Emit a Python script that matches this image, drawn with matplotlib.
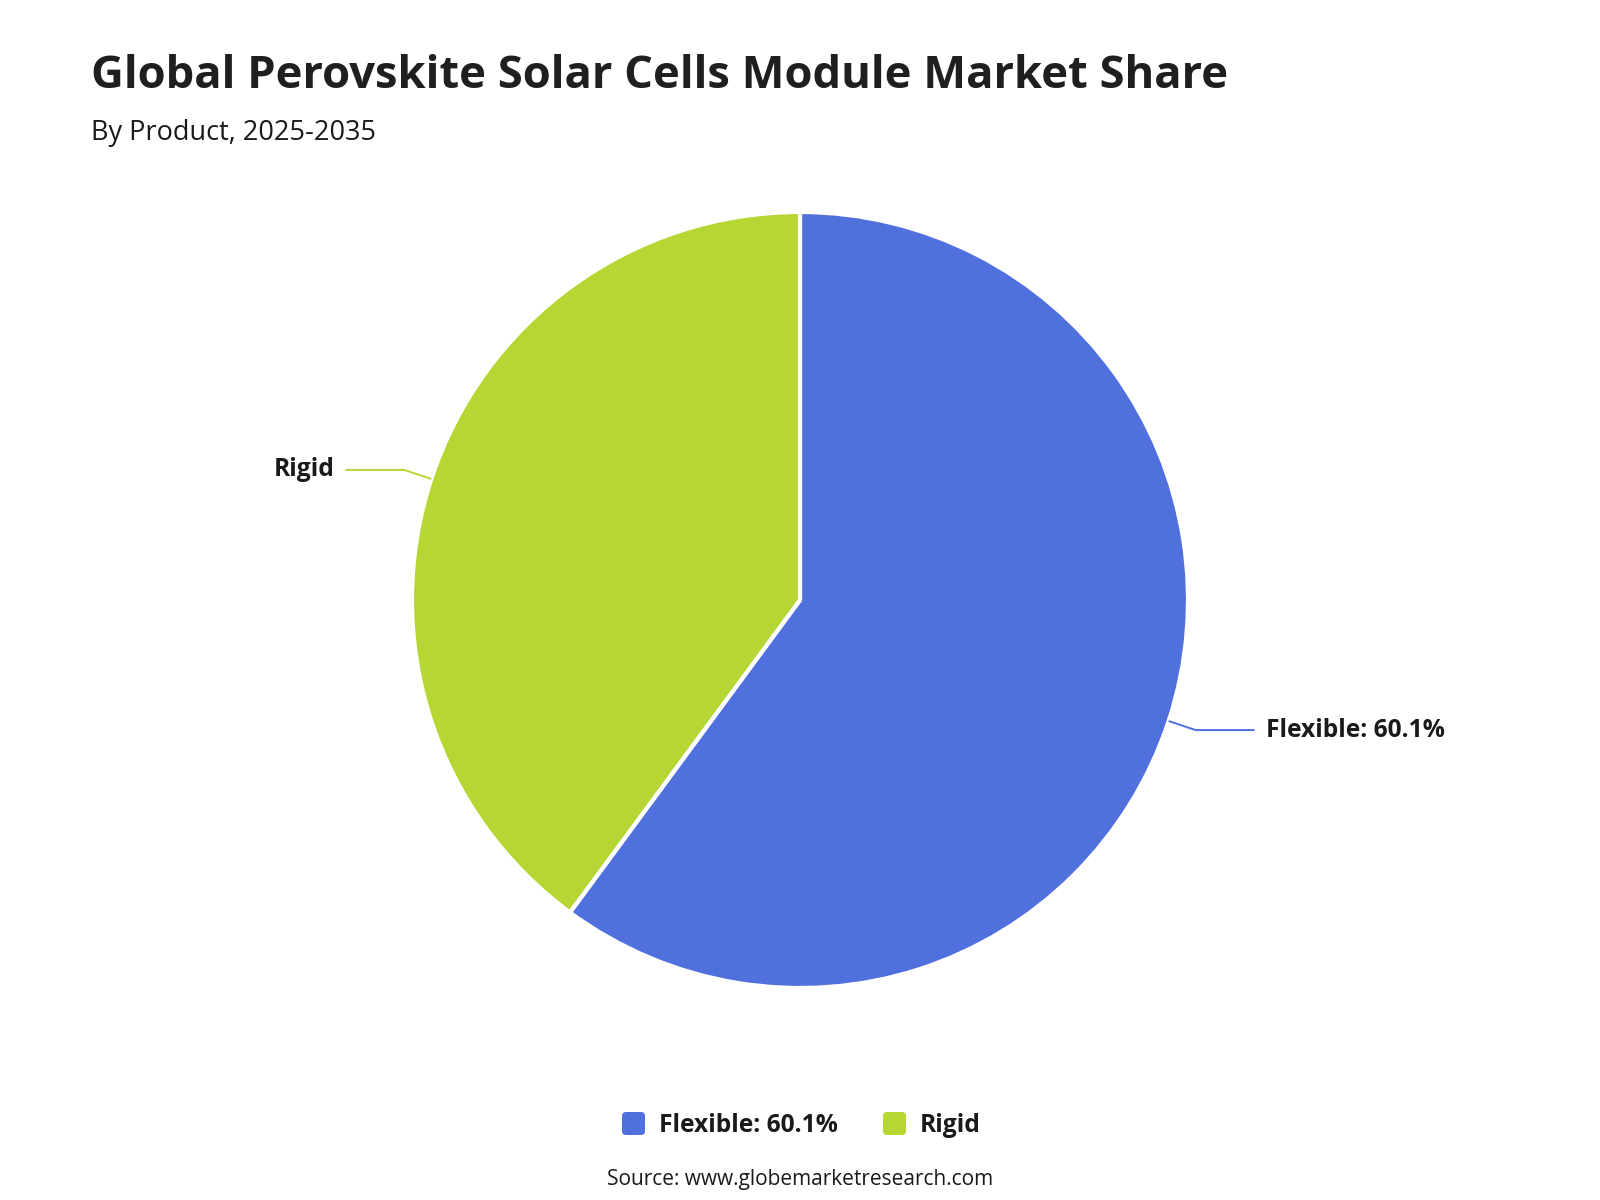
import matplotlib.pyplot as plt
import numpy as np
from matplotlib.patches import FancyBboxPatch

plt.rcParams['font.family'] = ['Open Sans', 'DejaVu Sans']

# data
products = ["Flexible", "Rigid"]
shares = [60.1, 39.9]
colors = ["#5070dd", "#b6d634"]
slice_labels = ["Flexible: 60.1%", "Rigid"]

W, H = 1600, 1200
fig = plt.figure(figsize=(16, 12), dpi=100)
ax = fig.add_axes([0, 0, 1, 1])

cx, cy, r = 800, H - 600, 388
wedges, _ = ax.pie(shares, colors=colors, startangle=90, counterclock=False,
                   center=(cx, cy), radius=r, frame=True,
                   wedgeprops=dict(edgecolor='white', linewidth=3, joinstyle='round'))
ax.set_xlim(0, W)
ax.set_ylim(0, H)
ax.set_aspect('equal')
ax.axis('off')

# leader lines + labels
for w, lab, col in zip(wedges, slice_labels, colors):
    ang = np.deg2rad((w.theta1 + w.theta2) / 2)
    x0, y0 = cx + r * np.cos(ang), cy + r * np.sin(ang)
    side = 1 if np.cos(ang) > 0 else -1
    x1 = x0 + side * 27
    y1 = y0 - 9 if np.sin(ang) < 0 else y0 + 9
    x2 = x1 + side * 59
    ax.plot([x0, x1, x2], [y0, y1, y1], color=col, lw=1.4, solid_capstyle='butt')
    ax.text(x2 + side * 11, y1, lab, ha='left' if side > 0 else 'right', va='center',
            fontsize=17.7, fontweight='bold', color='#1a1a1a')

# titles
ax.text(91, H - 76, "Global Perovskite Solar Cells Module Market Share", fontsize=32.7,
        fontweight='bold', color='#1f1f1f', va='center', ha='left')
ax.text(91, H - 133, "By Product, 2025-2035", fontsize=19.5, color='#1a1a1a',
        va='center', ha='left')

# legend
leg_x = [622, 883]
for lx, lab, col in zip(leg_x, slice_labels, colors):
    ax.add_patch(FancyBboxPatch((lx, H - 1135), 23, 23, boxstyle="round,pad=0,rounding_size=4",
                                facecolor=col, edgecolor='none'))
    ax.text(lx + 37, H - 1125, lab, fontsize=17.7, fontweight='bold', color='#1a1a1a',
            va='center', ha='left')

ax.text(800, H - 1179, "Source: www.globemarketresearch.com", fontsize=15, color='#1a1a1a',
        va='center', ha='center')

fig.savefig("out.png", dpi=100, facecolor='white')
